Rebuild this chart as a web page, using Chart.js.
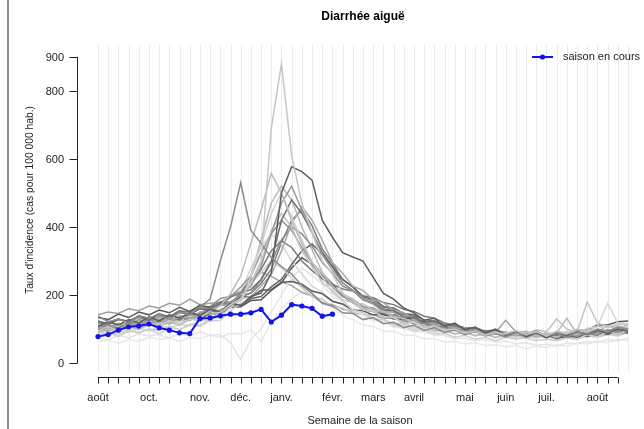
<!DOCTYPE html>
<html>
<head>
<meta charset="utf-8">
<script src="https://cdn.jsdelivr.net/npm/chart.js@4"></script>
<style>
  html, body { margin: 0; padding: 0; background: #fff; }
  canvas { display: block; }
</style>
</head>
<body>
<canvas id="diarrChart" width="644" height="429"></canvas>
<script>
// semaines de la saison (0 = début août)
const weeks = Array.from({ length: 53 }, (_, i) => i);

const yTicks = [0, 200, 400, 600, 800, 900];
const monthLabels = ["août", "oct.", "nov.", "déc.", "janv.", "févr.", "mars", "avril", "mai", "juin", "juil.", "août"];
const monthWeeks = [0, 5, 10, 14, 18, 23, 27, 31, 36, 40, 44, 49];

// saison en cours
const current = [78, 84, 97, 107, 109, 115, 104, 97, 89, 87, 131, 133, 139, 144, 144, 148, 158, 121, 141, 172, 168, 161, 138, 144];

// saisons précédentes
const pastA = [95,108,92,110,104,118,112,126,115,130, 124,142,150,172,188,236,300,690,880,610, 470,385,300,262,205,188,158,152,136,134, 118,122,104,110,96,100,88,94,82,90, 86,96,84,92,80,94,88,100,92,108, 104,116,112];
const pastB = [138,122,130,118,140,132,145,128,150,142, 165,188,300,400,530,390,352,310,284,262, 228,205,176,168,148,146,128,134,116,120, 104,112,96,104,90,98,84,94,80,88, 76,90,82,94,80,88,76,92,86,100, 94,106,100];
const pastC = [108,122,112,128,118,136,124,142,132,148, 140,158,152,176,170,196,206,265,500,577, 563,538,420,370,325,312,300,252,205,188, 162,148,126,132,108,118,98,106,88,100, 82,94,78,90,74,88,80,92,84,96, 88,100,94];
const pastD = [88,100,94,108,98,114,108,120,112,128, 132,154,168,204,256,352,450,558,500,418, 352,296,264,226,204,176,174,156,152,136, 132,118,112,96,100,86,92,80,88,74, 90,84,94,80,88,76,90,84,100,92, 110,100,112];
const pastE = [102,96,114,104,120,112,128,118,136,126, 144,148,170,176,204,226,284,380,470,520, 450,384,318,274,236,214,186,174,150,150, 126,124,110,114,100,104,90,96,86,92, 80,88,76,86,82,92,86,80,92,86, 98,92,102];
const pastF = [82,90,78,96,88,100,86,104,98,114, 108,124,126,154,176,254,348,440,500,430, 362,296,254,206,184,156,148,130,128,110, 108,96,98,86,88,76,82,70,76,66, 76,70,82,74,78,68,74,70,84,78, 92,86,96];
const pastG = [124,116,130,120,140,126,146,136,154,142, 160,156,176,174,206,216,246,300,420,480, 440,384,326,284,236,214,186,178,156,154, 136,134,120,124,110,114,100,104,94,98, 88,94,84,88,78,84,74,84,78,90, 84,94,88];
const pastH = [108,100,118,108,126,116,134,124,140,132, 150,150,170,170,190,196,226,260,330,410, 460,420,362,296,264,226,214,186,178,156, 148,130,128,114,112,100,104,90,96,86, 92,80,88,76,82,76,86,80,92,86, 96,90,100];
const pastI = [92,104,98,114,108,124,116,134,122,140, 134,156,154,176,186,234,296,390,440,400, 330,284,236,214,186,178,156,154,136,134, 116,120,106,110,96,104,90,96,86,92, 82,92,86,98,92,130,100,92,180,118, 108,110,104];
const pastJ = [118,112,128,122,134,126,144,132,150,144, 160,160,180,180,198,206,244,296,362,400, 380,344,296,264,226,214,190,184,160,154, 136,134,116,120,106,110,96,102,90,96, 86,92,82,86,78,82,76,86,80,92, 86,96,90];
const pastK = [134,128,144,134,150,142,156,148,164,152, 170,164,180,174,196,194,214,216,238,240, 232,212,204,182,174,156,154,142,144,130, 128,116,118,106,108,96,100,92,94,86, 90,82,86,76,80,72,80,76,84,80, 90,86,94];
const pastL = [72,68,82,74,86,80,84,74,86,80, 92,82,84,60,10,70,100,150,200,250, 280,258,232,196,182,156,142,126,122,106, 102,92,92,82,82,72,74,66,70,62, 64,56,60,52,56,50,60,56,64,60, 70,66,74];
const pastM = [98,108,104,118,114,124,116,132,128,144, 146,164,170,194,206,244,276,330,360,340, 300,272,248,232,218,212,198,192,178,172, 158,152,138,132,118,112,104,102,92,94, 86,88,80,84,76,82,78,88,84,92, 88,96,98];
const pastN = [78,88,84,98,90,100,96,108,98,112, 112,128,136,164,186,234,266,300,280,250, 222,196,188,166,162,146,142,126,128,116, 118,106,108,96,98,86,90,82,84,76, 80,72,74,66,70,66,74,70,80,76, 84,80,90];
const pastO = [112,108,116,114,128,122,138,132,148,144, 164,166,190,196,224,256,324,380,420,390, 340,294,248,224,196,188,166,162,146,142, 126,128,116,118,106,108,96,100,92,94, 86,90,82,84,78,84,80,90,86,94, 90,100,96];
const pastP = [104,112,102,118,114,128,122,134,126,144, 140,154,150,170,170,190,196,224,246,290, 330,350,320,284,246,224,196,188,166,162, 146,142,126,122,112,112,100,102,92,94, 86,90,80,84,76,80,74,84,80,90, 86,94,90];
const pastQ = [92,86,96,90,104,94,108,106,112,112, 124,128,148,168,212,278,342,380,350,300, 262,226,208,182,172,152,148,132,128,114, 112,102,102,92,94,86,90,82,84,76, 80,76,84,80,90,86,94,90,102,108, 176,118,116];
const pastR = [142,150,146,160,154,168,162,176,170,188, 172,176,178,198,212,244,268,255,238,228, 208,198,178,172,158,152,142,142,132,132, 122,122,112,112,102,102,92,94,86,90, 126,92,92,84,88,78,84,78,88,84, 92,88,98];
const pastS = [96,104,100,114,104,118,116,128,126,132, 132,144,146,164,166,184,186,214,236,280, 310,290,258,232,198,178,158,152,142,142, 132,132,122,122,112,112,102,102,92,92, 84,88,78,84,80,90,86,96,98,112, 112,122,124];
const pastT = [102,92,104,100,114,110,124,114,128,126, 138,142,158,168,204,256,362,470,520,480, 400,334,266,234,196,184,162,158,142,138, 122,120,106,108,96,98,88,92,84,88, 78,84,74,82,78,88,132,86,92,90, 98,94,102];
const pastU = [62,68,58,70,64,76,70,74,64,76, 72,82,76,88,86,98,63,120,160,190, 210,200,178,162,138,128,112,108,94,94, 82,82,72,72,62,64,56,60,52,54, 48,52,42,50,46,54,50,60,56,64, 60,70,66];
const pastV = [122,114,128,124,138,132,142,136,154,150, 164,160,174,176,194,206,234,276,354,420, 450,404,336,294,246,224,196,190,166,158, 142,138,124,124,112,112,102,104,92,96, 86,90,82,86,76,82,76,86,84,96, 92,102,100];

const pastSeasons = [pastA, pastB, pastC, pastD, pastE, pastF, pastG, pastH, pastI, pastJ, pastK,
                     pastL, pastM, pastN, pastO, pastP, pastQ, pastR, pastS, pastT, pastU, pastV];
const greys = ["#c6c6c6", "#8a8a8a", "#5e5e5e", "#bcbcbc", "#9a9a9a", "#d0d0d0", "#6e6e6e", "#a8a8a8",
               "#c4c4c4", "#8c8c8c", "#5a5a5a", "#e4e4e4", "#7a7a7a", "#cccccc", "#959595", "#686868",
               "#d5d5d5", "#a0a0a0", "#555555", "#b8b8b8", "#e8e8e8", "#7f7f7f"];

const FONT = '"Liberation Sans", Arial, sans-serif';
const BLUE = "#1414ea";

const toPoints = vals => vals.map((v, i) => ({ x: weeks[i], y: v }));

const datasets = [{
  label: "saison en cours",
  data: toPoints(current),
  borderColor: BLUE,
  backgroundColor: BLUE,
  borderWidth: 2,
  pointRadius: 2.6,
  pointBorderWidth: 0,
  order: 0,
  clip: false
}];
pastSeasons.forEach((vals, k) => {
  datasets.push({
    data: toPoints(vals),
    borderColor: greys[k],
    borderWidth: 1.5,
    pointRadius: 0,
    order: 1,
    clip: false
  });
});

// axes, grille et textes façon graphique R
const rStyle = {
  id: "rStyle",
  beforeDatasetsDraw(chart) {
    const { ctx, chartArea, scales: { x } } = chart;
    ctx.save();
    ctx.strokeStyle = "#ececec";
    ctx.lineWidth = 1;
    weeks.forEach(w => {
      const px = Math.round(x.getPixelForValue(w)) + 0.5;
      ctx.beginPath();
      ctx.moveTo(px, chartArea.top);
      ctx.lineTo(px, chartArea.bottom);
      ctx.stroke();
    });
    ctx.restore();
  },
  afterDraw(chart) {
    const { ctx, scales: { x, y } } = chart;
    ctx.save();
    ctx.strokeStyle = "#222";
    ctx.lineWidth = 1;

    // cadre gauche
    ctx.fillStyle = "#8a8a8a";
    ctx.fillRect(7, 0, 2, 429);
    ctx.fillStyle = "#222";

    // axe y
    const ax = 77.5;
    ctx.beginPath();
    ctx.moveTo(ax, y.getPixelForValue(0));
    ctx.lineTo(ax, y.getPixelForValue(900));
    ctx.stroke();
    ctx.font = "11px " + FONT;
    ctx.textAlign = "right";
    ctx.textBaseline = "middle";
    yTicks.forEach(t => {
      const py = Math.round(y.getPixelForValue(t)) + 0.5;
      ctx.beginPath();
      ctx.moveTo(ax - 8, py);
      ctx.lineTo(ax, py);
      ctx.stroke();
      ctx.fillText(String(t), 64, py);
    });

    // axe x
    const ay = 377.5;
    ctx.beginPath();
    ctx.moveTo(x.getPixelForValue(0), ay);
    ctx.lineTo(x.getPixelForValue(51), ay);
    ctx.stroke();
    for (let w = 0; w <= 51; w++) {
      const px = Math.round(x.getPixelForValue(w)) + 0.5;
      ctx.beginPath();
      ctx.moveTo(px, ay);
      ctx.lineTo(px, ay + 6);
      ctx.stroke();
    }
    ctx.textAlign = "center";
    monthLabels.forEach((m, i) => {
      ctx.fillText(m, x.getPixelForValue(monthWeeks[i]), 398);
    });

    // titres
    ctx.fillText("Semaine de la saison", 360, 421);
    ctx.font = "bold 12px " + FONT;
    ctx.fillStyle = "#000";
    ctx.fillText("Diarrhée aiguë", 363, 17);
    ctx.fillStyle = "#222";
    ctx.font = "10.3px " + FONT;
    ctx.save();
    ctx.translate(30, 200);
    ctx.rotate(-Math.PI / 2);
    ctx.fillText("Taux d'incidence (cas pour 100 000 hab.)", 0, 0);
    ctx.restore();

    // légende
    ctx.strokeStyle = BLUE;
    ctx.fillStyle = BLUE;
    ctx.lineWidth = 2;
    ctx.beginPath();
    ctx.moveTo(532, 57);
    ctx.lineTo(553, 57);
    ctx.stroke();
    ctx.beginPath();
    ctx.arc(542.5, 57, 2.6, 0, Math.PI * 2);
    ctx.fill();
    ctx.fillStyle = "#222";
    ctx.font = "11px " + FONT;
    ctx.textAlign = "left";
    ctx.fillText("saison en cours", 563, 57);
    ctx.restore();
  }
};

new Chart(document.getElementById("diarrChart"), {
  type: "line",
  data: { datasets },
  options: {
    responsive: false,
    devicePixelRatio: 1,
    animation: false,
    layout: { padding: { left: 98, right: 16, top: 45, bottom: 57 } },
    plugins: { legend: { display: false }, tooltip: { enabled: false }, title: { display: false } },
    elements: { line: { tension: 0 } },
    scales: {
      x: { type: "linear", min: 0, max: 52, display: false },
      y: { min: -26, max: 935, display: false }
    }
  },
  plugins: [rStyle]
});
</script>
</body>
</html>
